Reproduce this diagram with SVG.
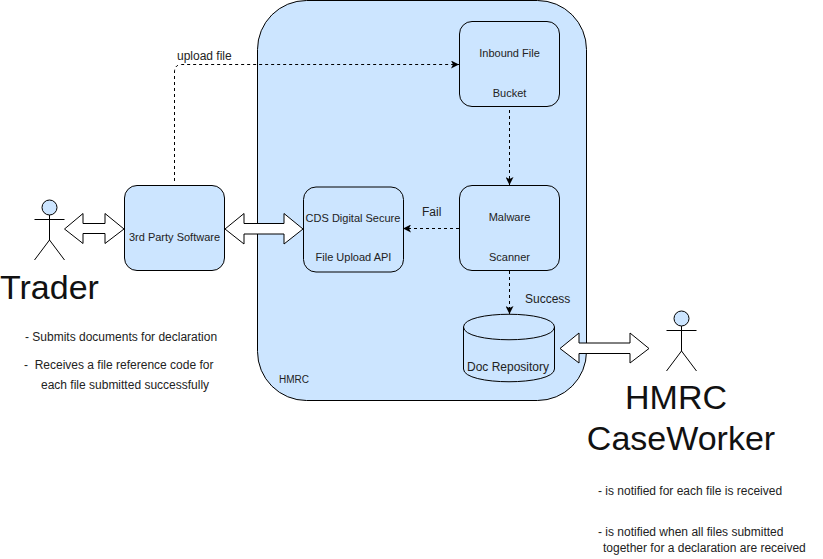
<svg xmlns="http://www.w3.org/2000/svg" width="823" height="559" viewBox="0 0 823 559">
<style>
text{font-family:"Liberation Sans",Arial,sans-serif;fill:#222;font-size:11px}
.m{text-anchor:middle}
.b{fill:#cce5ff;stroke:#000;stroke-width:1}
.c{fill:none;stroke:#000;stroke-width:1;stroke-dasharray:3 3}
.s{fill:none;stroke:#000;stroke-width:1}
.a{fill:#fff;stroke:#000;stroke-width:1}
.big{font-size:34px;fill:#111}
.n{font-size:12px}
</style>
<defs>
<marker id="ah" markerUnits="userSpaceOnUse" markerWidth="9" markerHeight="8" refX="8" refY="4" orient="auto"><path d="M0 0L8 4L0 8L2 4Z" fill="#000"/></marker>
</defs>
<g id="hmrc"><rect class="b" x="257.500" y="0.500" width="329" height="400" rx="49" ry="49"/><text x="279" y="383" style="font-size:10px">HMRC</text></g>
<g id="connectors">
<path class="c" d="M174.500 181V72Q174.500 64.500 182 64.500H459" marker-end="url(#ah)"/>
<path class="c" d="M509.500 110V185" marker-end="url(#ah)"/>
<path class="c" d="M459 228.500H403" marker-end="url(#ah)"/>
<path class="c" d="M509.500 271V314" marker-end="url(#ah)"/>
<path class="a" d="M64.500 229L83 213.500V223.500H105V213.500L124 229L105 243.500V233.500H83V243.500Z"/>
<path class="a" d="M225 229L244 213.500V223.500H284V213.500L303 229L284 244V234H244V244Z"/>
<path class="a" d="M560 348.500L579 333V343H630V333L649 348.500L630 363V353.500H579V363Z"/>
</g>
<g id="trader"><circle class="b" cx="49.500" cy="207.500" r="7.500"/><path class="s" d="M49.500 215V240M34.500 219.500H64.500M49.500 240L34.500 260M49.500 240L64.500 260"/><text class="big" x="0" y="299">Trader</text><text class="n" x="25" y="341">- Submits documents for declaration</text><text class="n" x="24" y="369">-&#160; Receives a file reference code for</text><text class="n" x="41" y="389">each file submitted successfully</text></g>
<g id="software"><rect class="b" x="124.500" y="185.500" width="100" height="85" rx="12.500"/><text class="m" x="174.500" y="241">3rd Party Software</text></g>
<g id="api"><rect class="b" x="303.500" y="187" width="100" height="85" rx="12.500"/><text class="m" x="353" y="222">CDS Digital Secure</text><text class="m" x="353.500" y="261">File Upload API</text></g>
<g id="bucket"><rect class="b" x="459.500" y="21.500" width="100" height="85" rx="12.500"/><text class="m" x="509.500" y="57">Inbound File</text><text class="m" x="509.500" y="97">Bucket</text></g>
<g id="scanner"><rect class="b" x="459.500" y="185.500" width="100" height="85" rx="12.500"/><text class="m" x="509.500" y="221">Malware</text><text class="m" x="509.500" y="261">Scanner</text></g>
<g id="repo"><path class="b" d="M463.500 327C463.500 310 554.500 310 554.500 327V369C554.500 386 463.500 386 463.500 369Z"/><path class="s" d="M463.500 327C463.500 344 554.500 344 554.500 327"/><text class="m" x="508" y="371" style="font-size:12px">Doc Repository</text></g>
<g id="caseworker"><circle class="b" cx="681.500" cy="318.500" r="7.500"/><path class="s" d="M681.500 326V351M666.500 330.500H696.500M681.500 351L666.500 371M681.500 351L696.500 371"/><text class="big m" x="676" y="409">HMRC</text><text class="big m" x="681" y="450">CaseWorker</text><text class="n" x="598" y="495">- is notified for each file is received</text><text class="n" x="598" y="536">- is notified when all files submitted</text><text class="n" x="603" y="552">together for a declaration are received</text></g>
<g id="labels"><text class="n" x="177" y="60">upload file</text><text class="n" x="422" y="216">Fail</text><text class="n" x="525" y="303">Success</text></g>
</svg>
